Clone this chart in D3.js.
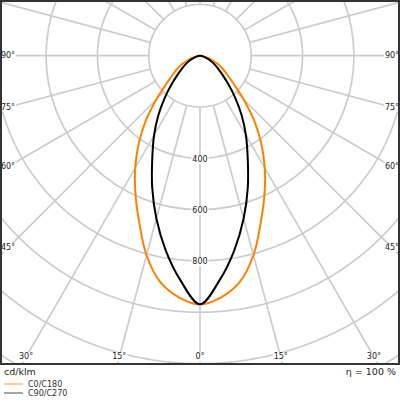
<!DOCTYPE html>
<html>
<head>
<meta charset="utf-8">
<script src="https://cdn.jsdelivr.net/npm/d3@7"></script>
<style>
  html, body { margin:0; padding:0; background:#fff; }
  svg { display:block; font-family:"DejaVu Sans", sans-serif; }
</style>
</head>
<body>
<svg id="chart" width="400" height="400"></svg>
<script>
// ---- data (cd/klm against gamma, degrees) ----
var gammaDeg = [0, 5, 10, 15, 20, 25, 30, 35, 40, 45, 50, 55, 60, 65, 70, 75, 80, 85, 90];
var c0c180   = [969, 945, 895, 805, 692, 595, 505, 416, 327, 240, 172, 131, 102, 75, 48, 23, 8, 2, 0];
var c90c270  = [969, 878, 770, 657, 545, 440, 358, 283, 213, 155, 113, 84, 62, 44, 26, 11, 3, 0, 0];
var ringValues  = [200, 400, 600, 800, 1000, 1200, 1400];
var ringLabels  = [400, 600, 800];
var spokeAngles = [0, 15, 30, 45, 60, 75, 90, 105, 120, 135, 150, 165, 180];
var angleLabels = [0, 15, 30, 45, 60, 75, 90];
var seriesNames = ["C0/C180", "C90/C270"];
var unitLabel = "cd/klm", etaLabel = "η = 100 %";

(function () {
  var W = 400, PH = 364, cx = 200, cy = 55.7;
  var ORANGE = "#ff8000", BLACK = "#000", GRID = "#cccccc", TEXT = "#222";
  var r = d3.scaleLinear().domain([0, 1000]).range([0, 256.6]);
  var rad = Math.PI / 180;

  var svg = d3.select("#chart");
  svg.append("defs").append("clipPath").attr("id", "plotclip")
    .append("rect").attr("x", 0).attr("y", 0).attr("width", W).attr("height", PH);

  var plot = svg.append("g").attr("clip-path", "url(#plotclip)");
  var g = plot.append("g").attr("transform", "translate(" + cx + "," + cy + ")");

  // spokes, from the 200 ring outwards, both sides
  spokeAngles.forEach(function (a) {
    [1, -1].forEach(function (s) {
      if ((a === 0 || a === 180) && s < 0) return;
      var sx = s * Math.sin(a * rad), sy = Math.cos(a * rad);
      g.append("line")
        .attr("x1", r(200) * sx).attr("y1", r(200) * sy)
        .attr("x2", r(1600) * sx).attr("y2", r(1600) * sy)
        .attr("stroke", GRID).attr("stroke-width", 1.7);
    });
  });
  // rings
  g.selectAll("circle.ring").data(ringValues).enter().append("circle")
    .attr("class", "ring").attr("r", function (d) { return r(d); })
    .attr("fill", "none").attr("stroke", GRID).attr("stroke-width", 1.7);

  // curves: gamma 0 points down, mirrored for the other half plane
  function pts(vals) {
    var out = [];
    for (var i = gammaDeg.length - 1; i > 0; i--) out.push([Math.PI + gammaDeg[i] * rad, vals[i]]);
    for (var j = 0; j < gammaDeg.length; j++) out.push([Math.PI - gammaDeg[j] * rad, vals[j]]);
    return out;
  }
  var line = d3.lineRadial()
    .angle(function (d) { return d[0]; })
    .radius(function (d) { return r(d[1]); })
    .curve(d3.curveCatmullRom.alpha(0.5));
  g.append("path").attr("d", line(pts(c0c180)))
    .attr("fill", "none").attr("stroke", ORANGE).attr("stroke-width", 2);
  g.append("path").attr("d", line(pts(c90c270)))
    .attr("fill", "none").attr("stroke", BLACK).attr("stroke-width", 2);

  // label with white backing box
  function boxed(parent, x, y, txt, size) {
    var t = parent.append("text").attr("x", x).attr("y", y)
      .attr("text-anchor", "middle").attr("dominant-baseline", "central")
      .attr("font-size", size).attr("fill", TEXT).text(txt);
    var b = t.node().getBBox();
    parent.insert("rect", function () { return t.node(); })
      .attr("x", b.x - 1).attr("y", b.y).attr("width", b.width + 2).attr("height", b.height)
      .attr("fill", "#fff");
  }

  ringLabels.forEach(function (v) { boxed(g, 0, r(v) + 1, String(v), 8); });

  // angle labels where each spoke meets an inset frame
  var xIn = 192, yIn = 357 - cy;
  angleLabels.forEach(function (a) {
    var sa = Math.sin(a * rad), ca = Math.cos(a * rad);
    var t = Math.min(sa > 1e-6 ? xIn / sa : Infinity, ca > 1e-6 ? yIn / ca : Infinity);
    [1, -1].forEach(function (s) {
      if (a === 0 && s < 0) return;
      boxed(g, s * t * sa, t * ca, a + "°", 8);
    });
  });

  // frame
  svg.append("rect").attr("x", 1).attr("y", 1).attr("width", W - 2).attr("height", PH - 1)
    .attr("fill", "none").attr("stroke", "#333").attr("stroke-width", 2);

  // footer
  svg.append("text").attr("x", 4).attr("y", 374.5).attr("font-size", 9.5)
    .attr("fill", TEXT).text(unitLabel);
  svg.append("text").attr("x", 396).attr("y", 374.5).attr("font-size", 9.5)
    .attr("text-anchor", "end").attr("fill", TEXT).text(etaLabel);
  var legCol = [ORANGE, BLACK];
  seriesNames.forEach(function (n, i) {
    var y = 384 + i * 9;
    svg.append("line").attr("x1", 4).attr("x2", 23).attr("y1", y).attr("y2", y)
      .attr("stroke", legCol[i]).attr("stroke-width", 1).attr("opacity", i ? 0.7 : 0.8);
    svg.append("text").attr("x", 28).attr("y", y).attr("dominant-baseline", "central")
      .attr("font-size", 8).attr("fill", "#333").text(n);
  });
})();
</script>
</body>
</html>
